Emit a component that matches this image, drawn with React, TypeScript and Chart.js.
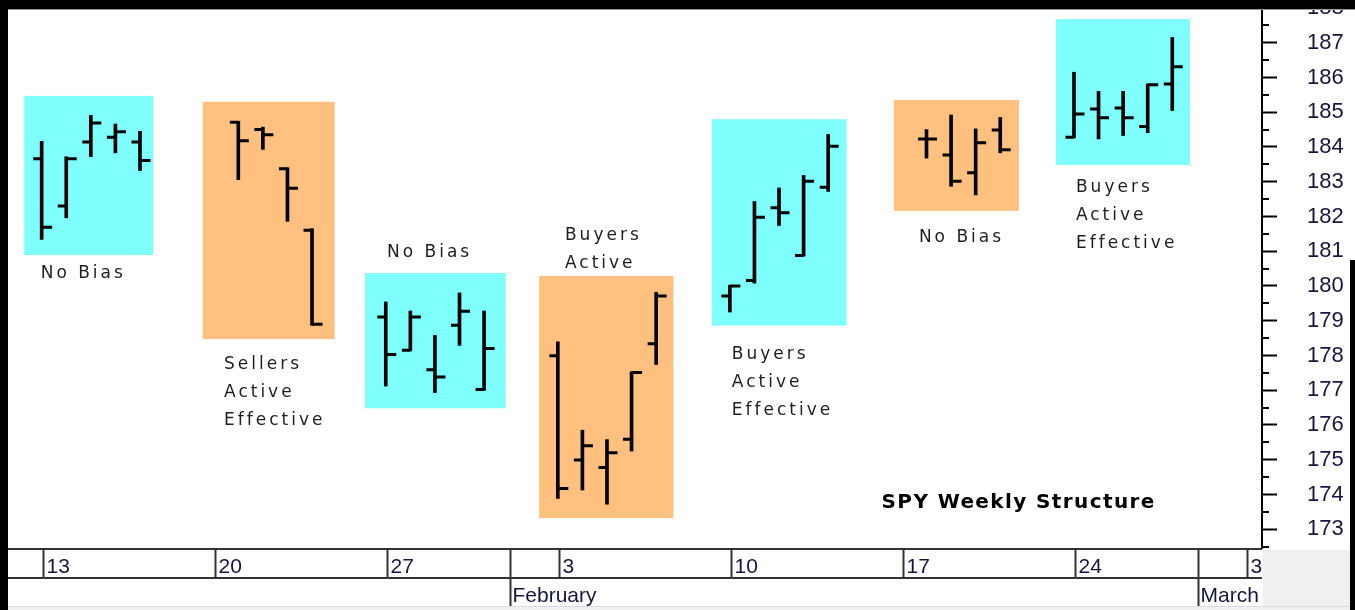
import React, { useEffect, useRef } from 'react';
import { Chart, registerables } from 'chart.js';

Chart.register(...registerables);

// ---------- data ----------
const BASE_DATE = '2014-01-13';

const tradingDates = [
  '2014-01-13', '2014-01-14', '2014-01-15', '2014-01-16', '2014-01-17',
  '2014-01-21', '2014-01-22', '2014-01-23', '2014-01-24',
  '2014-01-27', '2014-01-28', '2014-01-29', '2014-01-30', '2014-01-31',
  '2014-02-03', '2014-02-04', '2014-02-05', '2014-02-06', '2014-02-07',
  '2014-02-10', '2014-02-11', '2014-02-12', '2014-02-13', '2014-02-14',
  '2014-02-18', '2014-02-19', '2014-02-20', '2014-02-21',
  '2014-02-24', '2014-02-25', '2014-02-26', '2014-02-27', '2014-02-28',
];
const opens = [
  183.66, 182.30, 184.14, 184.28, 184.14,
  184.71, 184.50, 183.37, 181.60,
  179.11, 178.15, 177.59, 178.87, 177.02,
  177.99, 174.99, 174.78, 175.59, 178.34,
  179.71, 180.16, 182.25, 180.88, 182.84,
  184.23, 183.77, 183.26, 184.49,
  184.28, 185.09, 185.12, 184.59, 185.81,
];
const highs = [
  184.16, 183.72, 184.91, 184.66, 184.45,
  184.74, 184.57, 183.40, 181.65,
  179.54, 179.28, 178.58, 179.80, 179.28,
  178.39, 175.85, 175.58, 177.53, 179.82,
  180.02, 182.43, 182.82, 183.18, 184.36,
  184.50, 184.92, 184.52, 184.85,
  186.15, 185.60, 185.60, 185.81, 187.15,
];
const lows = [
  181.34, 181.96, 183.72, 183.83, 183.32,
  183.06, 183.93, 181.86, 178.87,
  177.12, 178.13, 176.93, 178.29, 177.00,
  173.89, 174.13, 173.72, 175.25, 177.74,
  179.25, 180.08, 181.74, 180.86, 182.72,
  183.68, 182.87, 182.62, 183.83,
  184.26, 184.23, 184.33, 184.41, 185.05,
];
const closes = [
  181.69, 183.66, 184.69, 184.44, 183.61,
  184.18, 184.35, 182.81, 178.90,
  178.03, 179.11, 177.38, 179.27, 178.20,
  174.17, 175.40, 175.20, 177.51, 179.71,
  180.00, 181.98, 182.11, 183.01, 184.02,
  184.23, 183.01, 184.12, 183.92,
  184.95, 184.84, 184.84, 185.79, 186.31,
];

// x-axis labels
const weekStarts = ['2014-01-13', '2014-01-20', '2014-01-27', '2014-02-03', '2014-02-10', '2014-02-17', '2014-02-24', '2014-03-03'];
const monthStarts = ['2014-02-01', '2014-03-01'];
const monthLabels = ['February', 'March'];

// y-axis
const yTickValues = [173, 174, 175, 176, 177, 178, 179, 180, 181, 182, 183, 184, 185, 186, 187, 188];
const yMin = 172.46;
const yMax = 187.97;
const xMinDay = -1.37;
const xMaxDay = 49.65;

// weekly zones (days from BASE_DATE, price values)
const zoneFrom = [-0.71, 6.55, 13.15, 20.24, 27.27, 34.67, 41.27];
const zoneTo = [4.54, 11.92, 18.88, 25.70, 32.75, 39.76, 46.72];
const zoneHigh = [185.47, 185.30, 180.37, 180.29, 184.80, 185.35, 187.68];
const zoneLow = [180.89, 178.47, 176.48, 173.32, 178.86, 182.16, 183.48];
const zoneGroup = [0, 1, 0, 1, 0, 1, 0];
const zoneNotes = [
  ['No Bias'],
  ['Sellers', 'Active', 'Effective'],
  ['No Bias'],
  ['Buyers', 'Active'],
  ['Buyers', 'Active', 'Effective'],
  ['No Bias'],
  ['Buyers', 'Active', 'Effective'],
];
const noteDay = [-0.04, 7.42, 14.05, 21.29, 28.08, 35.69, 42.08];
const noteValue = [180.22, 177.61, 180.83, 181.32, 177.89, 181.26, 182.70];

const chartTitle = 'SPY Weekly Structure';
const titleDay = 34.17;
const titleValue = 173.61;

// ---------- helpers ----------
const dayOf = (s: string) => {
  const [y, m, d] = s.split('-').map(Number);
  const [by, bm, bd] = BASE_DATE.split('-').map(Number);
  return (Date.UTC(y, m - 1, d) - Date.UTC(by, bm - 1, bd)) / 86400000;
};
const dayNum = (s: string) => String(Number(s.split('-')[2]));

const ZONE_COLORS = ['#80FFFF', '#FFC080'];
const LABEL_FONT = '17px "DejaVu Sans"';
const AXIS_FONT = '21px "Liberation Sans", Arial, sans-serif';
const AXIS_TEXT = '#16163c';
const FRAME_TOP = 9;

const decorPlugin = {
  id: 'decor',
  beforeDraw(chart: any) {
    const { ctx, width, height } = chart;
    ctx.save();
    ctx.fillStyle = '#ffffff';
    ctx.fillRect(0, 0, width, height);
    ctx.restore();
  },
  beforeDatasetsDraw(chart: any) {
    const { ctx, chartArea } = chart;
    const xs = chart.scales.x;
    const ys = chart.scales.y;
    ctx.save();
    ctx.beginPath();
    ctx.rect(chartArea.left, chartArea.top, chartArea.right - chartArea.left, chartArea.bottom - chartArea.top);
    ctx.clip();
    zoneFrom.forEach((f, i) => {
      const x0 = xs.getPixelForValue(f);
      const x1 = xs.getPixelForValue(zoneTo[i]);
      const y0 = ys.getPixelForValue(zoneHigh[i]);
      const y1 = ys.getPixelForValue(zoneLow[i]);
      ctx.fillStyle = ZONE_COLORS[zoneGroup[i]];
      ctx.fillRect(x0, y0, x1 - x0, y1 - y0);
    });
    ctx.fillStyle = '#1e1e1e';
    ctx.font = LABEL_FONT;
    ctx.textAlign = 'left';
    ctx.textBaseline = 'alphabetic';
    (ctx as any).letterSpacing = '3px';
    zoneNotes.forEach((lines, i) => {
      const x = xs.getPixelForValue(noteDay[i]);
      const y = ys.getPixelForValue(noteValue[i]);
      lines.forEach((t, k) => ctx.fillText(t, x, y + k * 28));
    });
    ctx.fillStyle = '#000';
    ctx.font = 'bold 20px "DejaVu Sans"';
    (ctx as any).letterSpacing = '1.4px';
    ctx.fillText(chartTitle, xs.getPixelForValue(titleDay), ys.getPixelForValue(titleValue));
    (ctx as any).letterSpacing = '0px';
    ctx.restore();
  },
  afterDatasetsDraw(chart: any) {
    const { ctx } = chart;
    const ys = chart.scales.y;
    const meta = chart.getDatasetMeta(0);
    ctx.save();
    ctx.strokeStyle = '#000';
    ctx.lineWidth = 3;
    ctx.lineCap = 'butt';
    meta.data.forEach((bar: any, i: number) => {
      const cx = bar.x;
      const yo = ys.getPixelForValue(opens[i]);
      const yc = ys.getPixelForValue(closes[i]);
      ctx.beginPath();
      ctx.moveTo(cx - 8.5, yo);
      ctx.lineTo(cx, yo);
      ctx.moveTo(cx, yc);
      ctx.lineTo(cx + 10.5, yc);
      ctx.stroke();
    });
    ctx.restore();
  },
  afterDraw(chart: any) {
    const { ctx, chartArea, width, height } = chart;
    const xs = chart.scales.x;
    const ys = chart.scales.y;
    ctx.save();

    // minor y ticks
    ctx.strokeStyle = '#000';
    ctx.lineWidth = 2;
    for (let i = 0; i < yTickValues.length; i++) {
      const v = yTickValues[i] - 0.5;
      if (v < yMin) continue;
      const py = Math.round(ys.getPixelForValue(v));
      ctx.beginPath();
      ctx.moveTo(chartArea.right, py);
      ctx.lineTo(chartArea.right + 7, py);
      ctx.stroke();
    }

    // date band
    const top = chartArea.bottom;
    const mid = top + 30;
    const bot = top + 58;
    ctx.save();
    ctx.beginPath();
    ctx.rect(chartArea.left, top, chartArea.right - chartArea.left, bot - top + 1);
    ctx.clip();
    ctx.fillStyle = '#ffffff';
    ctx.fillRect(chartArea.left, top, chartArea.right - chartArea.left, bot - top);
    ctx.strokeStyle = '#333333';
    ctx.lineWidth = 2;
    ctx.beginPath();
    ctx.moveTo(chartArea.left, top + 1);
    ctx.lineTo(chartArea.right, top + 1);
    ctx.moveTo(chartArea.left, mid);
    ctx.lineTo(chartArea.right, mid);
    ctx.stroke();
    ctx.font = AXIS_FONT;
    ctx.fillStyle = AXIS_TEXT;
    ctx.textAlign = 'left';
    ctx.textBaseline = 'alphabetic';
    weekStarts.forEach((d) => {
      const px = Math.round(xs.getPixelForValue(dayOf(d))) + 1.5;
      ctx.beginPath();
      ctx.moveTo(px, top);
      ctx.lineTo(px, mid);
      ctx.stroke();
      ctx.fillText(dayNum(d), px + 3, top + 25);
    });
    monthStarts.forEach((d, i) => {
      const px = Math.round(xs.getPixelForValue(dayOf(d))) + 1.5;
      ctx.beginPath();
      ctx.moveTo(px, top);
      ctx.lineTo(px, bot);
      ctx.stroke();
      ctx.fillText(monthLabels[i], px + 2, mid + 24);
    });
    ctx.restore();

    // grey areas
    ctx.fillStyle = '#f0f0f0';
    ctx.fillRect(chartArea.right + 1, top + 2, width - chartArea.right, height - top);
    ctx.fillRect(0, bot, width, height - bot);
    ctx.fillStyle = '#dcdcdc';
    ctx.fillRect(0, bot, width, 1);

    // black frame
    ctx.fillStyle = '#000';
    ctx.fillRect(0, 0, width, FRAME_TOP);
    ctx.fillRect(0, 0, chartArea.left, height);
    ctx.fillRect(width - 5, 260, 5, height - 260);
    ctx.fillStyle = '#9a9a9a';
    ctx.fillRect(chartArea.left, FRAME_TOP, width - chartArea.left, 1);
    ctx.restore();
  },
};

export default function App() {
  const canvasRef = useRef<HTMLCanvasElement | null>(null);

  useEffect(() => {
    const canvas = canvasRef.current;
    if (!canvas) return;
    const chart = new Chart(canvas, {
      type: 'bar',
      data: {
        datasets: [
          {
            label: 'SPY',
            data: tradingDates.map((d, i) => ({ x: dayOf(d), y: [lows[i], highs[i]] })) as any,
            backgroundColor: '#000000',
            borderWidth: 0,
            barThickness: 3,
          },
        ],
      },
      options: {
        animation: false,
        responsive: false,
        devicePixelRatio: 1,
        events: [],
        layout: { padding: { left: 8, top: FRAME_TOP, right: 0, bottom: 62 } },
        plugins: { legend: { display: false }, tooltip: { enabled: false }, title: { display: false } },
        scales: {
          x: {
            type: 'linear',
            min: xMinDay,
            max: xMaxDay,
            offset: false,
            display: false,
          },
          y: {
            type: 'linear',
            position: 'right',
            min: yMin,
            max: yMax,
            afterBuildTicks: (s: any) => {
              s.ticks = yTickValues.map((v) => ({ value: v }));
            },
            afterFit: (s: any) => {
              s.width = 93;
              s.paddingTop = 0;
              s.paddingBottom = 0;
            },
            grid: {
              drawOnChartArea: false,
              drawTicks: true,
              tickLength: 15,
              tickColor: '#000',
              tickWidth: 2,
            },
            border: { display: true, color: '#000', width: 2 },
            ticks: {
              padding: 30,
              color: AXIS_TEXT,
              font: { family: '"Liberation Sans", Arial, sans-serif', size: 22 },
              callback: (v: any) => String(v),
              autoSkip: false,
            },
          },
        },
      },
      plugins: [decorPlugin],
    } as any);
    return () => chart.destroy();
  }, []);

  return (
    <div style={{ position: 'fixed', left: 0, top: 0, width: 1355, height: 610, overflow: 'hidden' }}>
      <canvas ref={canvasRef} width={1355} height={610} style={{ display: 'block', width: 1355, height: 610 }} />
    </div>
  );
}
